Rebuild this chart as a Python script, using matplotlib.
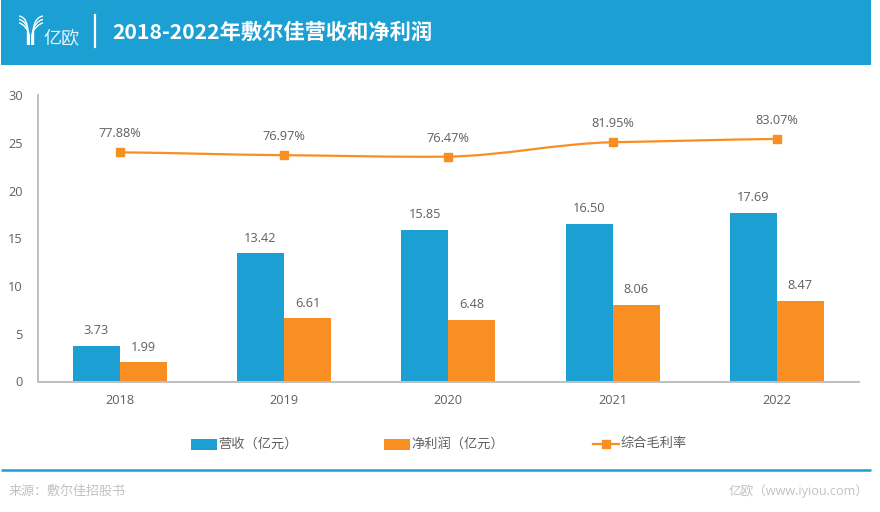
import matplotlib
matplotlib.use("Agg")
import matplotlib.pyplot as plt
from matplotlib.patches import Rectangle, PathPatch
from matplotlib.path import Path
import numpy as np

CJK = ['Noto Sans CJK SC', 'DejaVu Sans']
NUM = ['Open Sans', 'Noto Sans CJK SC', 'DejaVu Sans']
plt.rcParams['font.family'] = NUM

years = ['2018', '2019', '2020', '2021', '2022']
revenue = [3.73, 13.42, 15.85, 16.50, 17.69]
profit = [1.99, 6.61, 6.48, 8.06, 8.47]
margin_labels = ['77.88%', '76.97%', '76.47%', '81.95%', '83.07%']
margin_heights = [24.0, 23.7, 23.55, 25.05, 25.4]
yticks = [0, 5, 10, 15, 20, 25, 30]

BLUE = '#1c9fd3'
ORANGE = '#f98e23'
TXT = '#606060'
W, H = 880, 512

fig = plt.figure(figsize=(W/100, H/100), dpi=100, facecolor='white')
bg = fig.add_axes([0, 0, 1, 1])
bg.set_xlim(0, W); bg.set_ylim(H, 0); bg.axis('off')

# header
bg.add_patch(Rectangle((1, 0), 870, 65, color=BLUE, lw=0))
bg.plot([95, 95], [15, 47], color='white', lw=1.6)
bg.text(112, 32.5, '2018-2022年敷尔佳营收和净利润', color='white', fontsize=15.3,
        fontweight='bold', va='center', ha='left', family=CJK)
bg.text(43.5, 38, '亿欧', color='white', fontsize=13, va='center', ha='left', alpha=.9, family=CJK)
# logo
for k in range(3):
    sx = 27.5 + k * 0.9
    for s, xs, xe in ((1, 19, sx), (-1, 43, 61 - sx)):
        y0 = 16 + k * 3.4
        verts = [(xs, y0), (xs + s*6 - s*k, y0 + 1), (xe, y0 + 7), (xe, y0 + 14), (xe, 45)]
        bg.add_patch(PathPatch(Path(verts, [Path.MOVETO, Path.CURVE4, Path.CURVE4, Path.CURVE4, Path.LINETO]),
                               fill=False, ec='white', lw=1.0))

# footer
bg.plot([1, 871], [470, 470], color=BLUE, lw=1.8, solid_capstyle='butt')
bg.text(9, 491, '来源：敷尔佳招股书', color='#c2c2c2', fontsize=9.4, va='center', ha='left', family=CJK)
bg.text(869, 491, '亿欧（www.iyiou.com）', color='#c2c2c2', fontsize=9.1, va='center', ha='right')

# plot
L, R, T, B = 37.5, 859, 95, 381.5
ax = fig.add_axes([L/W, 1 - B/H, (R-L)/W, (B-T)/H])
ax.patch.set_alpha(0)
x = np.arange(len(years))
bw = 0.286
ax.bar(x - bw/2, revenue, bw, color=BLUE, zorder=2)
ax.bar(x + bw/2, profit, bw, color=ORANGE, zorder=2)
ax.set_xlim(-0.5, 4.5); ax.set_ylim(0, 30)
for s in ('top', 'right'):
    ax.spines[s].set_visible(False)
for s in ('left', 'bottom'):
    ax.spines[s].set_color('#bfbfbf'); ax.spines[s].set_linewidth(1.4)
ax.set_xticks(x, years); ax.set_yticks(yticks)
ax.tick_params(length=0, labelsize=9.2, labelcolor=TXT)
ax.tick_params(axis='x', pad=9)
ax.tick_params(axis='y', pad=10.5)

# smooth margin line (Bezier through the points)
m = np.array(margin_heights)
slopes = np.gradient(m)
slopes[2] = 0.4
slopes[3] = 0.55
verts = [(x[0], m[0])]; codes = [Path.MOVETO]
for i in range(len(x) - 1):
    verts += [(x[i] + 1/3, m[i] + slopes[i]/3 * 0.6), (x[i+1] - 1/3, m[i+1] - slopes[i+1]/3 * 0.6), (x[i+1], m[i+1])]
    codes += [Path.CURVE4] * 3
ax.add_patch(PathPatch(Path(verts, codes), fill=False, ec=ORANGE, lw=1.6, zorder=3))
ax.plot(x, m, ls='none', marker='s', ms=6, color=ORANGE, zorder=4)

for xi, v in zip(x, revenue):
    ax.annotate(f'{v:.2f}', (xi - bw/2, v), xytext=(0, 6.3), textcoords='offset points',
                ha='center', va='bottom', fontsize=9.2, color=TXT)
for xi, v in zip(x, profit):
    ax.annotate(f'{v:.2f}', (xi + bw/2, v), xytext=(0, 6.3), textcoords='offset points',
                ha='center', va='bottom', fontsize=9.2, color=TXT)
for xi, h, t in zip(x, m, margin_labels):
    ax.annotate(t, (xi, h), xytext=(0, 8.5), textcoords='offset points',
                ha='center', va='bottom', fontsize=9.2, color=TXT)

# legend
colors = [BLUE, ORANGE, None]
labels = ['营收（亿元）', '净利润（亿元）', '综合毛利率']
for lx, c, t in zip([191, 384, 593], colors, labels):
    if c:
        bg.add_patch(Rectangle((lx, 439), 26, 11, color=c, lw=0))
    else:
        bg.plot([lx, lx + 26], [444, 444], color=ORANGE, lw=1.6)
        bg.plot([lx + 13], [444], marker='s', ms=6, color=ORANGE)
    bg.text(lx + 27.5, 444, t, fontsize=9.5, color=TXT, va='center', ha='left', family=CJK)

fig.savefig('out.png', dpi=100)
